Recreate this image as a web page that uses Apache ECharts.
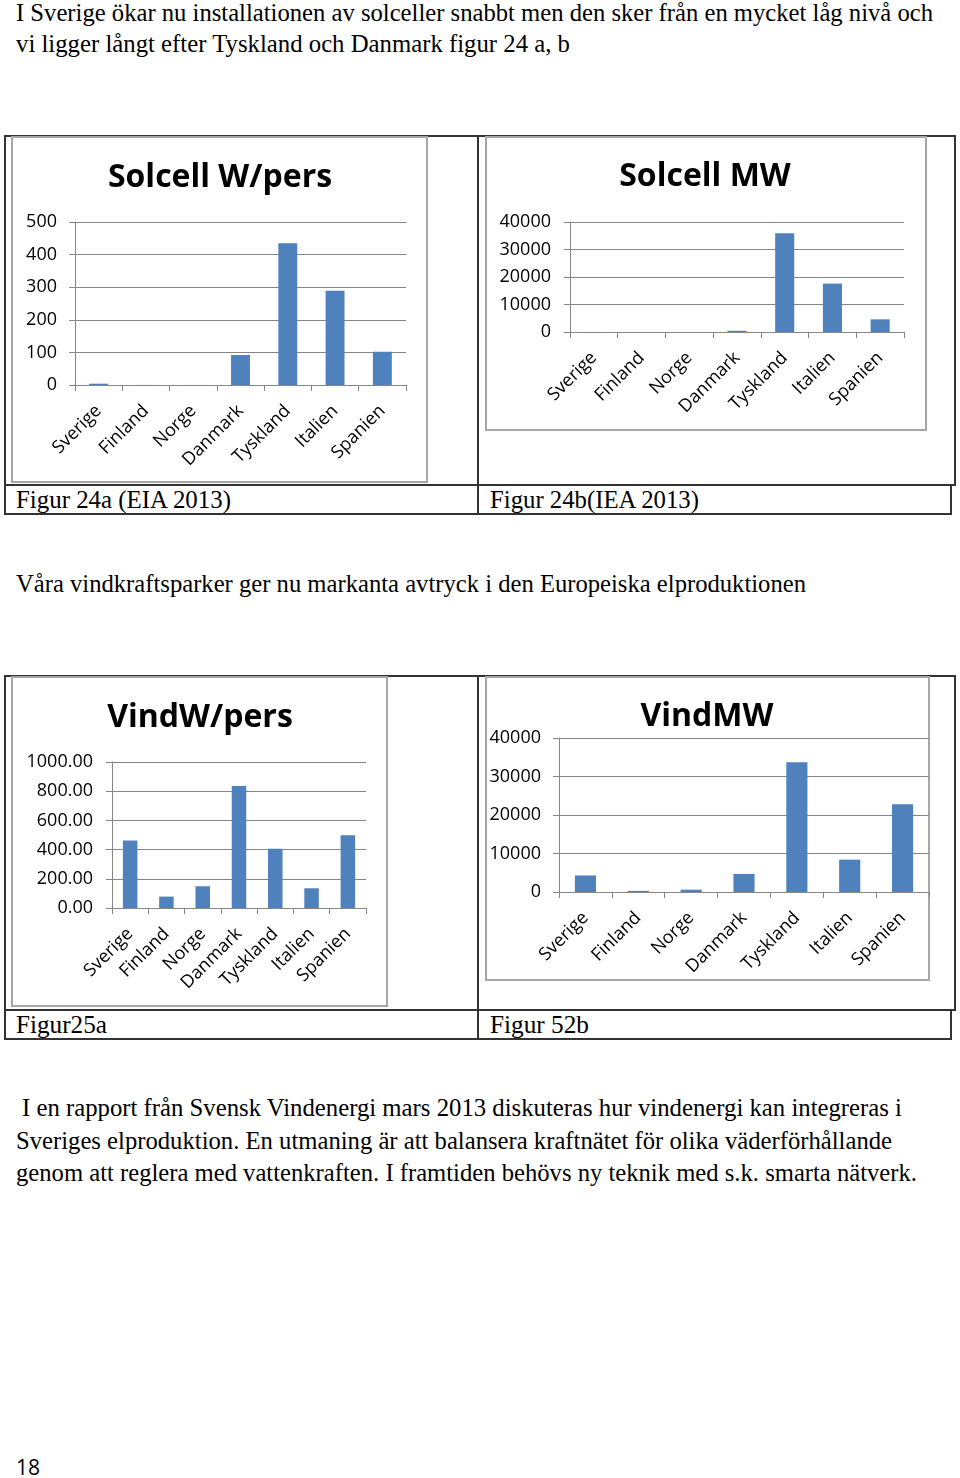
<!DOCTYPE html>
<html>
<head>
<meta charset="utf-8">
<script src="https://cdn.jsdelivr.net/npm/echarts@6/dist/echarts.min.js"></script>
<style>
  html, body { margin: 0; padding: 0; background: #fff; }
  body { width: 960px; height: 1478px; position: relative; overflow: hidden; }
  .t { position: absolute; white-space: nowrap; font-family: "Liberation Serif", serif; color: #000; line-height: 1; transform-origin: 0 0; }
  .box { position: absolute; box-sizing: border-box; }
  #chart { position: absolute; left: 0; top: 0; width: 960px; height: 1478px; z-index: 2; }
</style>
</head>
<body>
<!-- table borders -->
<div class="box" style="left:4px;top:135px;width:952px;height:351px;border:2px solid #333;"></div>
<div class="box" style="left:4px;top:484px;width:948px;height:31px;border:2px solid #333;"></div>
<div class="box" style="left:477px;top:135px;width:2px;height:380px;background:#333;"></div>
<div class="box" style="left:4px;top:675px;width:952px;height:336px;border:2px solid #333;"></div>
<div class="box" style="left:4px;top:1009px;width:948px;height:31px;border:2px solid #333;"></div>
<div class="box" style="left:477px;top:675px;width:2px;height:365px;background:#333;"></div>
<!-- chart frames -->
<div class="box" style="left:11px;top:136px;width:417px;height:347px;border:2px solid #a6a6a6;"></div>
<div class="box" style="left:485px;top:136px;width:442px;height:295px;border:2px solid #a6a6a6;"></div>
<div class="box" style="left:11px;top:676px;width:377px;height:331px;border:2px solid #a6a6a6;"></div>
<div class="box" style="left:485px;top:676px;width:445px;height:305px;border:2px solid #a6a6a6;"></div>

<div class="t fit" data-w="917" style="left:16px;top:0px;font-size:25px;">I Sverige ökar nu installationen av solceller snabbt men den sker från en mycket låg nivå och</div>
<div class="t fit" data-w="554" style="left:16px;top:31px;font-size:25px;">vi ligger långt efter Tyskland och Danmark figur 24 a, b</div>
<div class="t fit" data-w="215" style="left:16px;top:487px;font-size:25px;">Figur 24a (EIA 2013)</div>
<div class="t fit" data-w="209" style="left:490px;top:487px;font-size:25px;">Figur 24b(IEA 2013)</div>
<div class="t fit" data-w="790" style="left:16px;top:571px;font-size:25px;">Våra vindkraftsparker ger nu markanta avtryck i den Europeiska elproduktionen</div>
<div class="t fit" data-w="91" style="left:16px;top:1012px;font-size:25px;">Figur25a</div>
<div class="t fit" data-w="99" style="left:490px;top:1012px;font-size:25px;">Figur 52b</div>
<div class="t fit" data-w="880" style="left:22px;top:1095px;font-size:25px;">I en rapport från Svensk Vindenergi mars 2013 diskuteras hur vindenergi kan integreras i</div>
<div class="t fit" data-w="876" style="left:16px;top:1128px;font-size:25px;">Sveriges elproduktion. En utmaning är att balansera kraftnätet för olika väderförhållande</div>
<div class="t fit" data-w="901" style="left:16px;top:1160px;font-size:25px;">genom att reglera med vattenkraften. I framtiden behövs ny teknik med s.k. smarta nätverk.</div>
<div class="t" style="left:16px;top:1457px;font-size:21px;font-family:'Open Sans',sans-serif;">18</div>

<div id="chart"></div>
<script>
// ---- data ----
const categories = ['Sverige', 'Finland', 'Norge', 'Danmark', 'Tyskland', 'Italien', 'Spanien'];
const solcellWpers = [4, 0.2, 0.1, 92, 435, 289, 102];
const solcellMW = [20, 10, 10, 450, 35900, 17600, 4600];
const vindWpers = [463, 78, 149, 835, 406, 135, 498];
const vindMW = [4300, 300, 600, 4700, 33700, 8400, 22800];
const chartTitles = ['Solcell W/pers', 'Solcell MW', 'VindW/pers', 'VindMW'];
const yMax = [500, 40000, 1000, 40000];
const yStep = [100, 10000, 200, 10000];
const yDecimals = [0, 0, 2, 0];

// ---- fit text lines ----
document.querySelectorAll('.fit').forEach(el => {
  const target = +el.dataset.w;
  const w = el.getBoundingClientRect().width;
  if (w > 0) el.style.transform = 'scaleX(' + (target / w) + ')';
});

// ---- chart ----
const seriesData = [solcellWpers, solcellMW, vindWpers, vindMW];
const grids = [
  { left: 75, top: 222, width: 331, height: 163 },
  { left: 570, top: 222, width: 334, height: 110 },
  { left: 112, top: 762, width: 254, height: 146 },
  { left: 559, top: 738, width: 370, height: 154 }
];
const yLabelMargin = [18, 19, 19, 18];
const titlePos = [[220, 178], [705, 177], [200, 718], [707, 717]];
const axisColor = '#868686';
const font = '"Open Sans", sans-serif';

const option = {
  animation: false,
  backgroundColor: 'transparent',
  grid: grids.map(g => Object.assign({ containLabel: false }, g)),
  xAxis: grids.map((g, i) => ({
    type: 'category', gridIndex: i, data: categories,
    axisLine: { show: true, lineStyle: { color: axisColor, width: 1 } },
    axisTick: { show: true, length: 6, lineStyle: { color: axisColor } },
    axisLabel: { rotate: 45, interval: 0, color: '#000', fontFamily: font, fontSize: 18, margin: 23 },
    splitLine: { show: false }
  })),
  yAxis: grids.map((g, i) => ({
    type: 'value', gridIndex: i, min: 0, max: yMax[i], interval: yStep[i],
    axisLine: { show: true, lineStyle: { color: axisColor, width: 1 } },
    axisTick: { show: true, length: 6, lineStyle: { color: axisColor } },
    axisLabel: { color: '#000', fontFamily: font, fontSize: 18, margin: yLabelMargin[i],
      formatter: v => v.toFixed(yDecimals[i]) },
    splitLine: { show: true, lineStyle: { color: axisColor, width: 1 } }
  })),
  series: seriesData.map((d, i) => ({
    type: 'bar', xAxisIndex: i, yAxisIndex: i, data: d,
    barCategoryGap: '60%',
    itemStyle: { color: '#4F81BD' }
  })),
  graphic: chartTitles.map((t, i) => ({
    type: 'text', x: titlePos[i][0], y: titlePos[i][1],
    style: { text: t, font: 'bold 32px "Open Sans", sans-serif', fill: '#000',
      align: 'center', verticalAlign: 'middle', textAlign: 'center', textVerticalAlign: 'middle' }
  }))
};
const chart = echarts.init(document.getElementById('chart'), null, { renderer: 'canvas' });
chart.setOption(option);
</script>
</body>
</html>
